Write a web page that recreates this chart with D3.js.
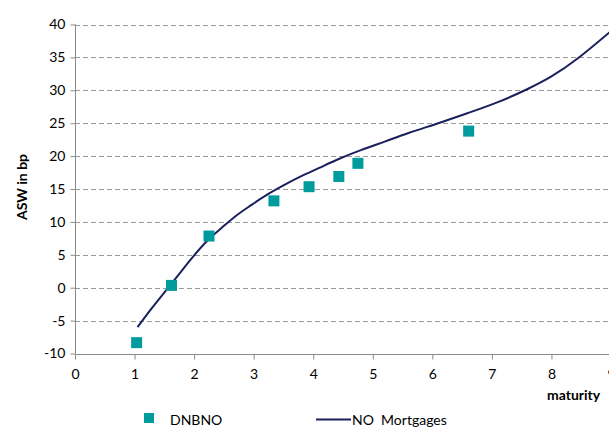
<!DOCTYPE html>
<html><head><meta charset="utf-8">
<script src="https://cdn.jsdelivr.net/npm/d3@7"></script>
<style>body{margin:0;background:#fff}svg{display:block}text{font-family:Lato,"Open Sans",sans-serif}</style>
</head><body>
<svg id="c" width="609" height="427"></svg>
<script>
const dnbnoX = [1.035, 1.62, 2.25, 3.34, 3.93, 4.43, 4.75, 6.61];
const dnbnoY = [-8.35, 0.35, 7.85, 13.2, 15.35, 16.9, 18.9, 23.8];
const mortX = [1.05, 1.3, 1.6, 1.9, 2.2, 2.45, 2.7, 2.95, 3.2, 3.5, 3.8, 4.1, 4.4, 4.8, 5.2, 5.6, 6.1, 6.6, 7.1, 7.6, 8.0, 8.45, 9.0];
const mortY = [-6.0, -3.0, 0.4, 3.8, 6.95, 9.0, 10.9, 12.5, 14.0, 15.55, 16.95, 18.2, 19.45, 20.9, 22.2, 23.5, 25.0, 26.55, 28.2, 30.2, 32.1, 34.9, 39.0];
const xTicks = [0,1,2,3,4,5,6,7,8,9];
const yTicks = [-10,-5,0,5,10,15,20,25,30,35,40];
const seriesNames = ["DNBNO", "NO  Mortgages"];

const svg = d3.select("#c");
const x = d3.scaleLinear().domain([0,9]).range([75,611]);
const y = d3.scaleLinear().domain([-10,40]).range([353.5,24.5]);
const grid = "#9a9a9a";

svg.append("g").selectAll("line").data(yTicks.filter(d=>d>-10)).join("line")
  .attr("x1",75).attr("x2",611).attr("y1",d=>Math.round(y(d))+0.5).attr("y2",d=>Math.round(y(d))+0.5)
  .attr("stroke",grid).attr("stroke-width",1).attr("stroke-dasharray","5,3");

const ya = svg.append("g").attr("transform","translate(75.5,0)")
  .call(d3.axisLeft(y).tickValues(yTicks).tickSize(5).tickPadding(5).tickFormat(d=>String(d)));
ya.select(".domain").attr("stroke","#8a8a8a").attr("d","M0,"+y(40)+"V"+y(-10));
ya.selectAll(".tick line").attr("stroke","#8a8a8a");
ya.selectAll("text").attr("font-size",14).attr("fill","#000").attr("font-family","Lato,sans-serif");

const xa = svg.append("g").attr("transform","translate(0,"+(Math.round(y(-10))+0.5)+")")
  .call(d3.axisBottom(x).tickValues(xTicks).tickSize(5).tickPadding(10).tickFormat(d=>String(d)));
xa.select(".domain").attr("stroke","#8a8a8a").attr("d","M75,0H611");
xa.selectAll(".tick line").attr("stroke","#8a8a8a");
xa.selectAll("text").attr("font-size",14).attr("fill","#000").attr("font-family","Lato,sans-serif");

const lineData = mortX.map((v,i)=>[v,mortY[i]]);
svg.append("path").datum(lineData)
  .attr("d", d3.line().x(d=>x(d[0])).y(d=>y(d[1])).curve(d3.curveNatural))
  .attr("fill","none").attr("stroke","#1b1f5c").attr("stroke-width",2);

const ms = 11;
svg.append("g").selectAll("rect").data(dnbnoX.map((v,i)=>[v,dnbnoY[i]])).join("rect")
  .attr("x",d=>x(d[0])-ms/2).attr("y",d=>y(d[1])-ms/2).attr("width",ms).attr("height",ms)
  .attr("fill","#009b9d");

svg.append("text").attr("transform","translate(27,187) rotate(-90)").attr("text-anchor","middle")
  .attr("font-size",14).attr("font-weight","bold").text("ASW in bp");
svg.append("text").attr("x",547).attr("y",400).attr("font-size",14).attr("font-weight","bold").text("maturity");

svg.append("rect").attr("x",144).attr("y",413).attr("width",10).attr("height",10).attr("fill","#009b9d");
svg.append("text").attr("x",170).attr("y",425).attr("font-size",14).text(seriesNames[0]);
svg.append("line").attr("x1",316).attr("x2",351).attr("y1",419.5).attr("y2",419.5).attr("stroke","#1b1f5c").attr("stroke-width",2);
svg.append("text").attr("x",352).attr("y",425).attr("font-size",14).style("white-space","pre").text(seriesNames[1]);
</script>
</body></html>
